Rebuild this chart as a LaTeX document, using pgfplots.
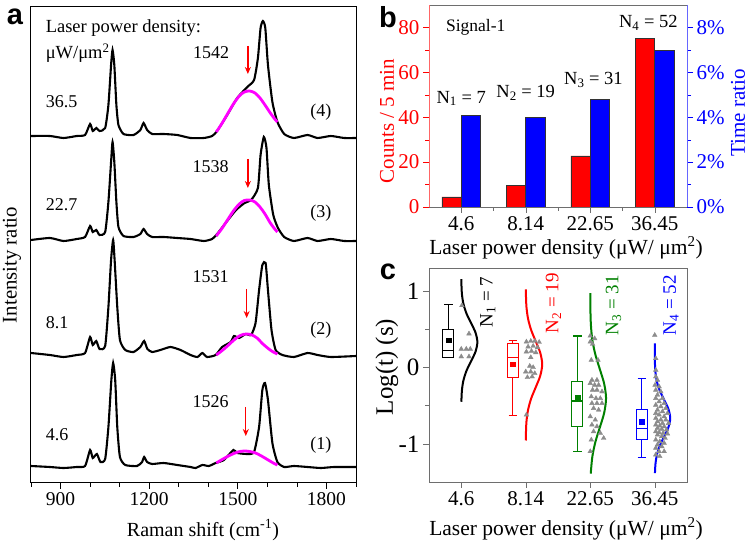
\documentclass[border=0pt]{standalone}
\usepackage{fontspec}
\setmainfont{Liberation Serif}
\newfontfamily\sansf{Liberation Sans}
\usepackage{pgfplots}
\pgfplotsset{compat=1.18}
\usepgfplotslibrary{statistics}
\usetikzlibrary{arrows.meta}
\newcommand\fs[1]{\fontsize{#1}{#1}\selectfont}
\definecolor{mag}{RGB}{255,0,255}
\definecolor{dgreen}{RGB}{0,128,0}
\definecolor{trig}{RGB}{140,140,140}
\definecolor{axgray}{RGB}{110,110,110}
\begin{document}
\begin{tikzpicture}
\path[use as bounding box] (0pt,0pt) rectangle (748pt,544pt);
\pgfplotsset{every axis/.append style={scale only axis, /pgf/number format/assume math mode=true, tick align=outside, major tick length=6pt, minor tick length=4pt}}

% ---------------- panel a ----------------
\begin{axis}[at={(31pt,61pt)}, anchor=south west, width=325pt, height=476pt,
  xmin=800, xmax=1900, ymin=0, ymax=476,
  ytick=\empty, xtick={900,1200,1500,1800}, xticklabels={900,1200,1500,1800},
  minor xtick={800,1000,1100,1300,1400,1600,1700,1900},
  xtick pos=bottom, axis line style={line width=1pt},
  tick style={black, line width=0.8pt},
  xticklabel style={font=\fs{19.5}}]
% spectrum (4)
\addplot[black, line width=2.1pt, smooth, tension=0.35] coordinates {
(800,347)(864,347)(910,345)(955,347)(983,348)(1000,359)(1009,352)(1021,355)(1032,352)(1051,355)(1062,378)(1071,418)(1076,433)(1082,418)(1089,378)(1096,358)(1113,349)(1147,348)(1170,353)(1181,360)(1193,353)(1210,349)(1249,349)(1295,348)(1340,345)(1385,345)(1413,347)(1430,352)(1464,368)(1498,385)(1532,396)(1555,403)(1568,425)(1577,455)(1585,462)(1593,455)(1602,418)(1617,381)(1634,361)(1657,349)(1690,345)(1736,348)(1770,345)(1815,347)(1860,345)(1900,345)};
\addplot[mag, line width=2.8pt, smooth] coordinates {
(1427,351)(1445,359)(1465,369)(1485,379)(1505,387)(1522,391)(1540,392)(1558,390)(1575,385)(1592,378)(1610,370)(1625,364)(1634,361)};
% spectrum (3)
\addplot[black, line width=2.1pt, smooth, tension=0.35] coordinates {
(800,243)(864,245)(910,242)(955,244)(983,246)(1000,257)(1009,251)(1021,253)(1032,248)(1051,251)(1062,281)(1071,321)(1076,341)(1082,321)(1089,281)(1096,256)(1113,247)(1147,246)(1170,249)(1181,254)(1193,249)(1210,246)(1249,246)(1295,245)(1340,244)(1385,242)(1413,244)(1430,249)(1464,262)(1494,273)(1523,280)(1545,283)(1568,295)(1577,328)(1588,346)(1597,335)(1605,298)(1620,268)(1636,255)(1657,246)(1690,242)(1736,245)(1770,242)(1815,244)(1860,242)(1900,242)};
\addplot[mag, line width=2.8pt, smooth] coordinates {
(1427,247)(1445,254)(1465,263)(1485,272)(1505,279)(1522,282.5)(1540,283)(1558,281)(1575,276)(1592,269)(1610,260)(1625,254)(1634,251)};
% spectrum (2)
\addplot[black, line width=2.1pt, smooth, tension=0.35] coordinates {
(800,130)(864,128)(910,126)(955,128)(983,130)(1000,146)(1009,138)(1021,142)(1032,134)(1051,137)(1062,176)(1071,223)(1078,243)(1083,223)(1092,176)(1101,143)(1119,133)(1147,131)(1170,136)(1183,142)(1194,134)(1210,131)(1238,133)(1272,136)(1306,133)(1340,128)(1363,126)(1380,130)(1396,126)(1425,128)(1447,136)(1476,141)(1487,147)(1504,145)(1527,149)(1545,148)(1560,160)(1572,193)(1583,218)(1594,220)(1602,193)(1614,153)(1628,133)(1651,128)(1690,126)(1736,130)(1770,128)(1815,126)(1900,127)};
\addplot[mag, line width=2.8pt, smooth] coordinates {
(1427,128)(1445,132)(1465,137)(1485,142.5)(1505,147)(1520,148.7)(1532,149)(1548,148)(1565,145)(1585,139)(1605,134)(1620,131)(1634,129)};
% spectrum (1)
\addplot[black, line width=2.1pt, smooth, tension=0.35] coordinates {
(800,17)(864,16)(910,15)(955,16)(983,17)(1000,33)(1009,25)(1023,29)(1035,21)(1051,24)(1062,56)(1072,103)(1078,120)(1085,103)(1092,56)(1101,26)(1119,18)(1159,17)(1176,21)(1183,26)(1193,21)(1210,19)(1249,20)(1295,18)(1340,16)(1357,15)(1380,18)(1402,17)(1425,20)(1453,23)(1485,33)(1498,30)(1532,29)(1555,31)(1572,56)(1583,93)(1592,100)(1602,83)(1617,40)(1634,21)(1657,16)(1690,17)(1736,16)(1781,15)(1826,16)(1900,16)};
\addplot[mag, line width=2.8pt, smooth] coordinates {
(1427,20)(1450,24)(1475,28)(1500,31)(1521,32)(1540,31.5)(1560,30)(1580,27)(1600,23.5)(1620,20)(1634,18)};
% arrows
\draw[red, line width=1.4pt, -{Stealth[length=7pt,width=6pt]}] (axis cs:1534,437) -- (axis cs:1534,409);
\draw[red, line width=1.4pt, -{Stealth[length=7pt,width=6pt]}] (axis cs:1534,324) -- (axis cs:1534,295);
\draw[red, line width=1.4pt, -{Stealth[length=7pt,width=6pt]}] (axis cs:1530,194) -- (axis cs:1530,165);
\draw[red, line width=1.4pt, -{Stealth[length=7pt,width=6pt]}] (axis cs:1527,76) -- (axis cs:1527,47);
% texts
\node[anchor=west, font=\fs{18.5}] at (axis cs:838,455) {Laser power density:};
\node[anchor=west, font=\fs{18.5}] at (axis cs:838,430) {μW/μm\textsuperscript{2}};
\node[anchor=west, font=\fs{18}] at (axis cs:838,381) {36.5};
\node[anchor=west, font=\fs{18}] at (axis cs:838,278) {22.7};
\node[anchor=west, font=\fs{18}] at (axis cs:838,160) {8.1};
\node[anchor=west, font=\fs{18}] at (axis cs:838,48) {4.6};
\node[font=\fs{18}] at (axis cs:1410,430) {1542};
\node[font=\fs{18}] at (axis cs:1408,316) {1538};
\node[font=\fs{18}] at (axis cs:1408,206) {1531};
\node[font=\fs{18}] at (axis cs:1408,81) {1526};
\node[font=\fs{18}] at (axis cs:1781,371) {(4)};
\node[font=\fs{18}] at (axis cs:1781,270) {(3)};
\node[font=\fs{18}] at (axis cs:1781,153) {(2)};
\node[font=\fs{18}] at (axis cs:1781,38) {(1)};
\end{axis}

% ---------------- panel b ----------------
\begin{axis}[at={(429pt,337pt)}, anchor=south west, width=258pt, height=202pt,
  xmin=-0.5, xmax=3.5, ymin=0, ymax=90,
  axis x line*=box, axis y line*=left,
  x axis line style={axgray}, y axis line style={red!60},
  xtick={0,1,2,3}, xticklabels={4.6,8.14,22.65,36.45}, minor xtick={0.5,1.5,2.5},
  ytick={0,20,40,60,80}, yticklabels={0,20,40,60,80}, minor ytick={10,30,50,70},
  xtick pos=bottom,
  xtick style={axgray}, ytick style={red},
  xticklabel style={font=\fs{21}}, yticklabel style={font=\fs{21}, text=red}]
\addplot[ybar, bar width=0.3, bar shift=-0.15, fill=red, draw=black!80, line width=0.6pt] coordinates {(0,4.5) (1,9.5) (2,22.8) (3,75.2)};
\node[font=\fs{18.5}] at (axis cs:0,48.4) {N\textsubscript{1} = 7};
\node[font=\fs{18.5}] at (axis cs:1.0,50.9) {N\textsubscript{2} = 19};
\node[font=\fs{18.5}] at (axis cs:2.05,56.6) {N\textsubscript{3} = 31};
\node[font=\fs{18.5}] at (axis cs:2.9,82) {N\textsubscript{4} = 52};
\node[anchor=west, font=\fs{17.5}] at (axis cs:-0.29,80) {Signal-1};
\end{axis}
\begin{axis}[at={(429pt,337pt)}, anchor=south west, width=258pt, height=202pt,
  xmin=-0.5, xmax=3.5, ymin=0, ymax=9,
  axis x line=none, axis y line*=right, y axis line style={blue!60},
  xtick=\empty, ytick={0,2,4,6,8}, yticklabels={0\%,2\%,4\%,6\%,8\%}, minor ytick={1,3,5,7}, ytick style={blue},
  yticklabel style={font=\fs{21}, text=blue}]
\addplot[ybar, bar width=0.3, bar shift=0.15, fill=blue, draw=black!80, line width=0.6pt] coordinates {(0,4.07) (1,4.0) (2,4.78) (3,6.96)};
\end{axis}

% ---------------- panel c ----------------
\begin{axis}[at={(429pt,62pt)}, anchor=south west, width=258pt, height=214pt,
  xmin=-0.5, xmax=3.5, ymin=-1.5, ymax=1.3,
  axis line style={axgray}, tick style={axgray},
  xtick={0,1,2,3}, xticklabels={4.6,8.14,22.65,36.45},
  ytick={-1,0,1}, yticklabels={-1,0,1}, minor ytick={-0.5,0.5},
  xtick pos=bottom, ytick pos=left,
  boxplot/draw direction=y,
  xticklabel style={font=\fs{21}}, yticklabel style={font=\fs{25}}]
% fitted distributions
\addplot[black, line width=2pt, smooth] coordinates {
(0.001,1.155)(0.003,1.08)(0.011,0.955)(0.034,0.83)(0.081,0.705)(0.152,0.58)(0.221,0.455)(0.25,0.33)(0.221,0.205)(0.152,0.08)(0.081,-0.045)(0.034,-0.17)(0.011,-0.295)(0.003,-0.42)(0.001,-0.45)};
\addplot[red, line width=2pt, smooth] coordinates {
(1.001,1.02)(1.003,0.94)(1.011,0.79)(1.035,0.64)(1.083,0.49)(1.155,0.34)(1.225,0.19)(1.255,0.04)(1.225,-0.11)(1.155,-0.26)(1.083,-0.41)(1.035,-0.56)(1.011,-0.71)(1.003,-0.86)(1.001,-0.957)};
\addplot[dgreen, line width=2pt, smooth] coordinates {
(2.0,0.97)(2.003,0.735)(2.011,0.545)(2.033,0.355)(2.080,0.165)(2.149,-0.025)(2.216,-0.215)(2.245,-0.405)(2.216,-0.595)(2.149,-0.785)(2.080,-0.975)(2.033,-1.165)(2.011,-1.355)(2.009,-1.39)};
\addplot[blue, line width=2pt, smooth] coordinates {
(3.0,0.313)(3.0005,0.175)(3.003,0.055)(3.011,-0.065)(3.033,-0.185)(3.078,-0.305)(3.146,-0.425)(3.212,-0.545)(3.24,-0.665)(3.212,-0.785)(3.146,-0.905)(3.078,-1.025)(3.033,-1.145)(3.011,-1.265)(3.003,-1.385)};
% individual values
\addplot[only marks, mark=triangle*, mark size=2.7pt, mark options={draw=trig, fill=trig}] coordinates {
(0.01,0.81)(0.12,0.44)(0.0,0.24)(0.078,0.24)(0.14,0.24)(0.0,0.14)(0.12,0.14)};
\addplot[only marks, mark=triangle*, mark size=2.7pt, mark options={draw=trig, fill=trig}] coordinates {
(1.01,0.334)(1.078,0.343)(1.14,0.343)(1.208,0.33)(1.036,0.269)(1.115,0.278)(1.182,0.26)(1.01,0.204)(1.089,0.213)(1.156,0.195)(1.078,0.13)(1.0625,0.017)(1.115,0.0)(1.0,-0.057)(1.078,-0.057)(1.14,-0.079)(1.026,-0.131)(1.099,-0.122)(1.01,-0.622)};
\addplot[only marks, mark=triangle*, mark size=2.7pt, mark options={draw=trig, fill=trig}] coordinates {
(2.0,0.412)(2.068,0.378)(2.0,0.334)(2.036,0.304)(2.016,0.095)(2.12,0.095)(2.026,-0.166)(2.104,-0.166)(2.0,-0.209)(2.068,-0.231)(2.13,-0.231)(2.036,-0.296)(2.104,-0.296)(2.182,-0.318)(2.016,-0.383)(2.089,-0.405)(2.156,-0.405)(2.026,-0.47)(2.104,-0.47)(2.182,-0.47)(2.052,-0.535)(2.13,-0.557)(2.0,-0.644)(2.078,-0.687)(2.026,-0.752)(2.104,-0.774)(2.052,-0.839)(2.156,-0.861)(2.208,-0.926)(2.016,-0.948)(2.0,-1.10)};
\addplot[only marks, mark=triangle*, mark size=2.7pt, mark options={draw=trig, fill=trig}] coordinates {
(3.0,0.421)(3.016,0.117)(3.016,-0.035)(3.016,-0.122)(3.042,-0.166)(3.005,-0.231)(3.068,-0.253)(3.016,-0.296)(3.094,-0.318)(3.042,-0.361)(3.016,-0.405)(3.12,-0.405)(3.068,-0.448)(3.146,-0.47)(3.016,-0.492)(3.094,-0.513)(3.172,-0.535)(3.042,-0.557)(3.12,-0.578)(3.016,-0.6)(3.198,-0.6)(3.068,-0.622)(3.146,-0.644)(3.016,-0.665)(3.094,-0.687)(3.172,-0.687)(3.042,-0.709)(3.12,-0.731)(3.214,-0.731)(3.016,-0.752)(3.078,-0.765)(3.146,-0.774)(3.042,-0.796)(3.109,-0.809)(3.182,-0.817)(3.016,-0.839)(3.068,-0.852)(3.13,-0.861)(3.198,-0.87)(3.042,-0.883)(3.109,-0.904)(3.161,-0.926)(3.016,-0.948)(3.078,-0.97)(3.146,-0.991)(3.042,-1.013)(3.109,-1.035)(3.016,-1.056)(3.068,-1.1)(3.146,-1.1)(3.016,-1.143)(3.078,-1.165)};
% box plots
\addplot[black, line width=1.2pt, boxplot prepared={draw position=-0.2, lower whisker=0.13, lower quartile=0.13, median=0.225, upper quartile=0.50, upper whisker=0.82, box extend=0.17, whisker extend=0.13}] coordinates {};
\addplot[red, line width=1.2pt, boxplot prepared={draw position=0.8, lower whisker=-0.635, lower quartile=-0.135, median=0.13, upper quartile=0.313, upper whisker=0.35, box extend=0.17, whisker extend=0.13}] coordinates {};
\addplot[dgreen, line width=1.2pt, boxplot prepared={draw position=1.8, lower whisker=-1.10, lower quartile=-0.774, median=-0.44, upper quartile=-0.18, upper whisker=0.41, box extend=0.17, whisker extend=0.13}] coordinates {};
\addplot[blue, line width=1.2pt, boxplot prepared={draw position=2.8, lower whisker=-1.178, lower quartile=-0.948, median=-0.796, upper quartile=-0.548, upper whisker=-0.144, box extend=0.17, whisker extend=0.13}] coordinates {};
% means
\addplot[only marks, mark=square*, mark size=2.4pt, black] coordinates {(-0.2,0.356)};
\addplot[only marks, mark=square*, mark size=2.4pt, red] coordinates {(0.8,0.04)};
\addplot[only marks, mark=square*, mark size=2.4pt, dgreen] coordinates {(1.8,-0.40)};
\addplot[only marks, mark=square*, mark size=2.4pt, blue] coordinates {(2.8,-0.709)};
% labels
\node[rotate=90, font=\fs{19}] at (axis cs:0.41,0.855) {N\textsubscript{1} = 7};
\node[rotate=90, font=\fs{19}, red] at (axis cs:1.43,0.84) {N\textsubscript{2} = 19};
\node[rotate=90, font=\fs{19}, dgreen] at (axis cs:2.36,0.81) {N\textsubscript{3} = 31};
\node[rotate=90, font=\fs{19}, blue] at (axis cs:3.25,0.81) {N\textsubscript{4} = 52};
\end{axis}

% axis titles and panel letters
\node[font=\fs{20}] at (203pt,14pt) {Raman shift (cm\textsuperscript{-1})};
\node[font=\fs{20.8}, rotate=90] at (12pt,279pt) {Intensity ratio};
\node[font=\fs{21.5}] at (566pt,296pt) {Laser power density (μW/ μm\textsuperscript{2})};
\node[font=\fs{21}, rotate=90, red] at (387pt,423pt) {Counts / 5 min};
\node[font=\fs{21}, rotate=90, blue] at (738pt,431pt) {Time ratio};
\node[font=\fs{21.5}] at (566pt,15pt) {Laser power density (μW/ μm\textsuperscript{2})};
\node[font=\fs{25}, rotate=90] at (387pt,177pt) {Log(t) (s)};
\node[font=\sansf\bfseries\fs{29}] at (15pt,527pt) {a};
\node[font=\sansf\bfseries\fs{29}] at (388pt,527pt) {b};
\node[font=\sansf\bfseries\fs{29}] at (388pt,272pt) {c};
\end{tikzpicture}
\end{document}
